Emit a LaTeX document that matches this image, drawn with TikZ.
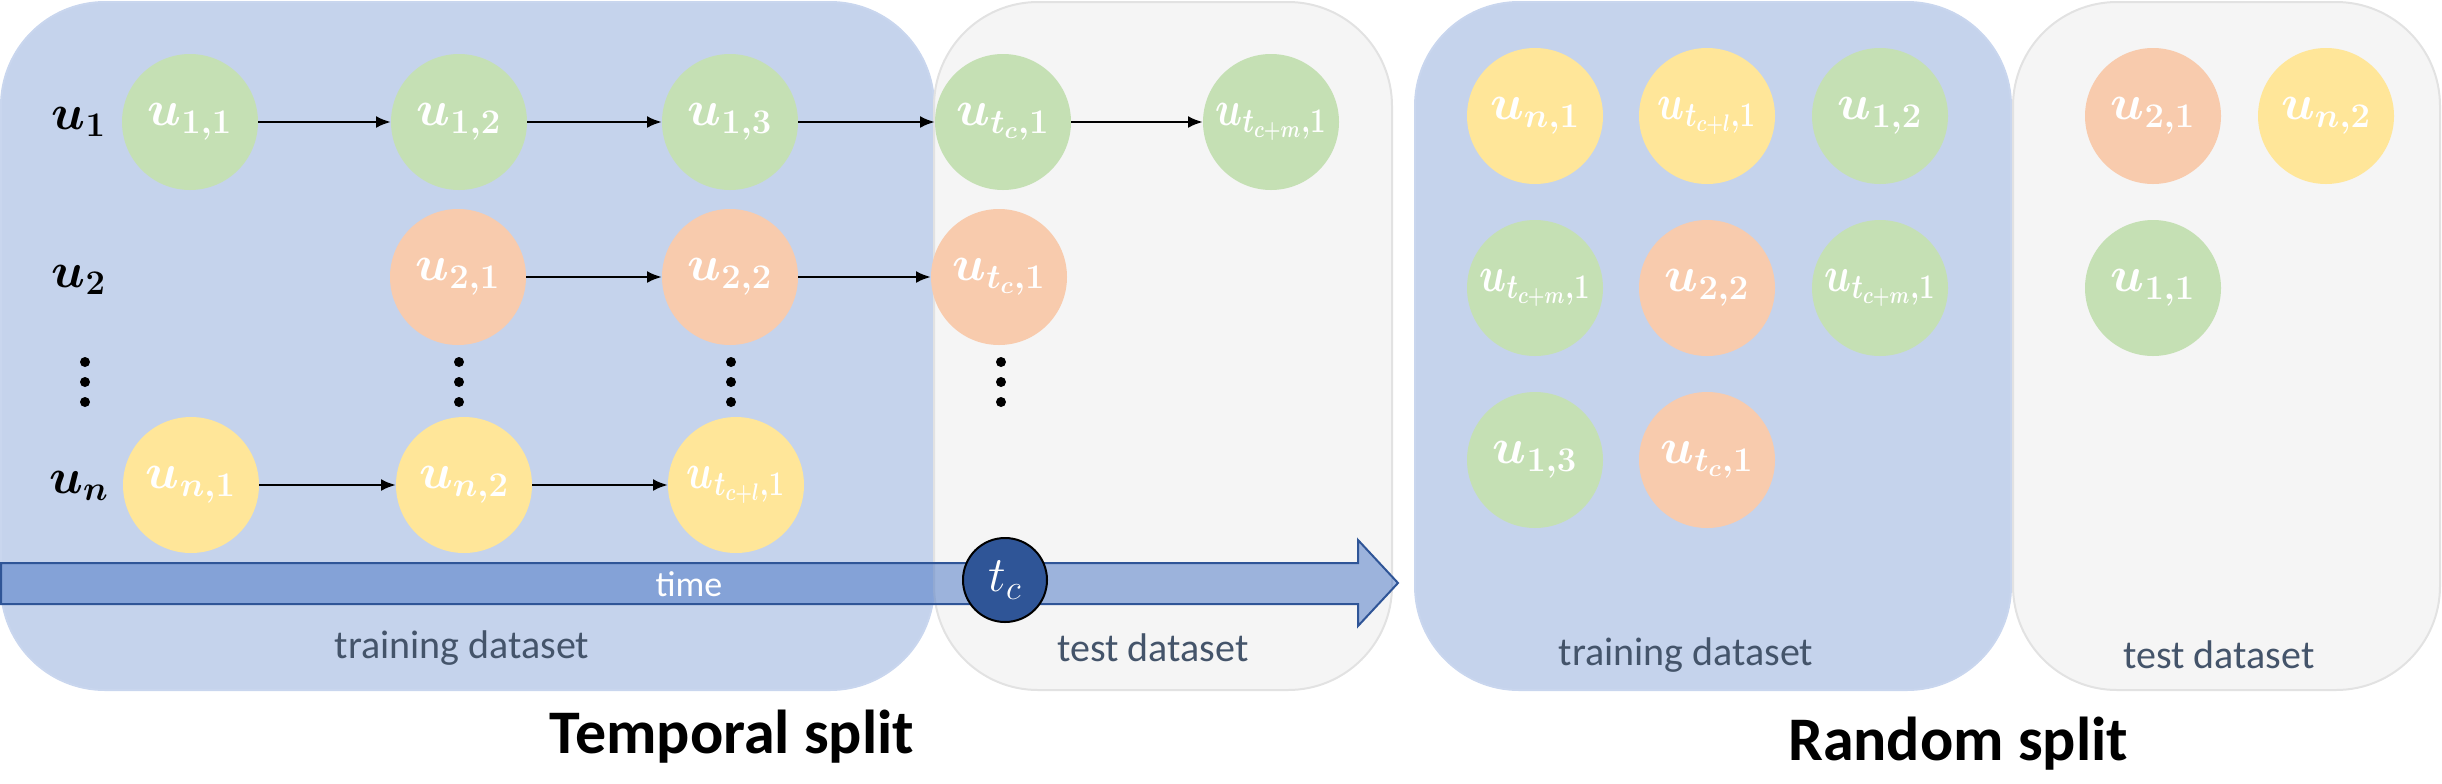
\documentclass[tikz,border=0pt]{standalone}
\usepackage[no-math]{fontspec}
\setmainfont{Carlito}
\usepackage{bm}
\usepackage{graphicx}
\usetikzlibrary{arrows.meta}
\newcommand\lnglab[1]{\scalebox{0.8}[1]{$\bm{#1}$}}
\definecolor{trainfill}{HTML}{C5D3EC}
\definecolor{trainedge}{HTML}{C9D6EE}
\definecolor{testfill}{HTML}{F5F5F5}
\definecolor{testedge}{HTML}{E2E2E2}
\definecolor{gfill}{HTML}{C5E0B4}
\definecolor{ofill}{HTML}{F8CBAD}
\definecolor{yfill}{HTML}{FFE699}
\definecolor{labgray}{HTML}{44546A}
\definecolor{timeblue}{HTML}{4472C4}
\definecolor{timeedge}{HTML}{2F5597}
\definecolor{tcfill}{HTML}{2F5597}
\begin{document}
\begin{tikzpicture}[x=0.5pt,y=-0.5pt,
  trainbox/.style={fill=trainfill,draw=trainedge,line width=1pt,rounded corners=52pt},
  testbox/.style={fill=testfill,draw=testedge,line width=1pt,rounded corners=52pt},
  dnode/.style={circle,minimum size=68pt,inner sep=0pt,outer sep=0pt,text=white,font=\fontsize{25}{29}\selectfont},
  grn/.style={dnode,fill=gfill},
  orn/.style={dnode,fill=ofill},
  yel/.style={dnode,fill=yfill},
  flow/.style={-{Latex[length=7.5pt,width=6pt]},line width=1.3pt},
  rowlab/.style={font=\fontsize{23}{27}\selectfont},
  dslabel/.style={text=labgray,font=\fontsize{20}{24}\selectfont},
  titlelab/.style={font=\bfseries\fontsize{31}{37}\selectfont},
  vdot/.style={circle,fill=black,inner sep=0pt,minimum size=5pt}
]
\path[use as bounding box] (0,0) rectangle (2442,783);

% boxes
\draw[trainbox] (1,2) rectangle (934,690);
\draw[testbox] (934,2) rectangle (1392,690);
\draw[trainbox] (1415,2) rectangle (2011,690);
\draw[testbox] (2013,2) rectangle (2440,690);

% temporal split nodes
\node[rowlab] (l1) at (79,122) {$\bm{u_1}$};
\node[rowlab] (l2) at (79,280) {$\bm{u_2}$};
\node[rowlab] (ln) at (79,486) {$\bm{u_n}$};

\node[grn] (a11) at (190,122) {$\bm{u_{1,1}}$};
\node[grn] (a12) at (459,122) {$\bm{u_{1,2}}$};
\node[grn] (a13) at (730,122) {$\bm{u_{1,3}}$};
\node[grn] (a1c) at (1003,122) {$\bm{u_{t_c,1}}$};
\node[grn] (a1m) at (1271,122) {\lnglab{u_{t_{c+m},1}}};

\node[orn] (a21) at (458,277) {$\bm{u_{2,1}}$};
\node[orn] (a22) at (730,277) {$\bm{u_{2,2}}$};
\node[orn] (a2c) at (999,277) {$\bm{u_{t_c,1}}$};

\node[yel] (an1) at (191,485) {$\bm{u_{n,1}}$};
\node[yel] (an2) at (464,485) {$\bm{u_{n,2}}$};
\node[yel] (anl) at (736,485) {\lnglab{u_{t_{c+l},1}}};

\draw[flow] (a11) -- (a12);
\draw[flow] (a12) -- (a13);
\draw[flow] (a13) -- (a1c);
\draw[flow] (a1c) -- (a1m);
\draw[flow] (a21) -- (a22);
\draw[flow] (a22) -- (a2c);
\draw[flow] (an1) -- (an2);
\draw[flow] (an2) -- (anl);

% vertical dots
\foreach \cx/\nm in {85/c1,459/c2,731/c3,1001/c4}{
  \foreach \cy/\k in {362/1,382/2,402/3}{
    \node[vdot] (dot-\nm-\k) at (\cx,\cy) {};
  }
}

% time arrow
\draw[fill=timeblue,fill opacity=0.5,draw=timeedge,line width=1pt]
  (1,563) -- (1358,563) -- (1358,540) -- (1398,583) -- (1358,626) -- (1358,604) -- (1,604) -- cycle;
\node[text=white,font=\fontsize{18}{22}\selectfont] (time) at (689,584) {time};
\node[circle,minimum size=42pt,inner sep=0pt,fill=tcfill,draw=black,line width=1pt,text=white,font=\fontsize{24}{28}\selectfont] (tc) at (1005,580) {$t_c$};

% dataset labels
\node[dslabel] (tr1) at (462,648) {training dataset};
\node[dslabel] (te1) at (1153,648) {test dataset};
\node[dslabel] (tr2) at (1686,655) {training dataset};
\node[dslabel] (te2) at (2219,655) {test dataset};

% titles
\node[titlelab] (t1) at (732,737) {Temporal split};
\node[titlelab] (t2) at (1958,744) {Random split};

% random split nodes
\node[yel] (r11) at (1535,116) {$\bm{u_{n,1}}$};
\node[yel] (r12) at (1707,116) {\lnglab{u_{t_{c+l},1}}};
\node[grn] (r13) at (1880,116) {$\bm{u_{1,2}}$};
\node[grn] (r21) at (1535,288) {\lnglab{u_{t_{c+m},1}}};
\node[orn] (r22) at (1707,288) {$\bm{u_{2,2}}$};
\node[grn] (r23) at (1880,288) {\lnglab{u_{t_{c+m},1}}};
\node[grn] (r31) at (1535,460) {$\bm{u_{1,3}}$};
\node[orn] (r32) at (1707,460) {$\bm{u_{t_c,1}}$};
\node[orn] (s11) at (2153,116) {$\bm{u_{2,1}}$};
\node[yel] (s12) at (2326,116) {$\bm{u_{n,2}}$};
\node[grn] (s21) at (2153,288) {$\bm{u_{1,1}}$};
\end{tikzpicture}
\end{document}
